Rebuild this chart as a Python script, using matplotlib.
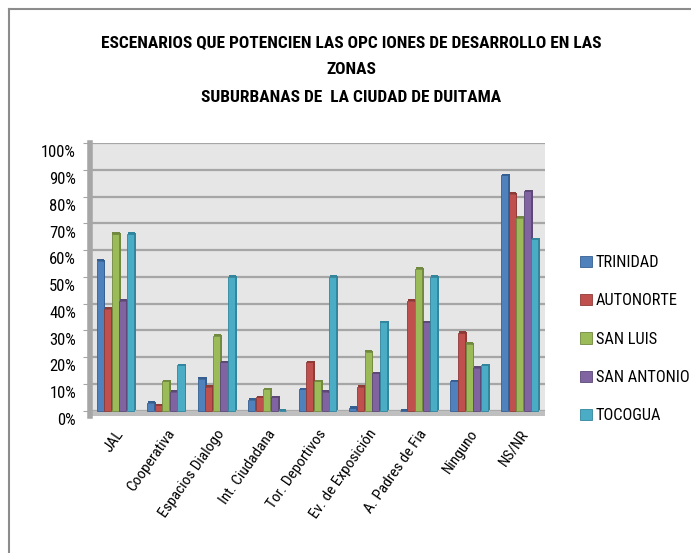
import matplotlib
matplotlib.use("Agg")
import matplotlib.pyplot as plt
import matplotlib.transforms as mtransforms
from matplotlib import font_manager as fm
from matplotlib.ticker import PercentFormatter
import numpy as np

categories = ["JAL", "Cooperativa", "Espacios Dialogo", "Int. Ciudadana",
              "Tor. Deportivos", "Ev. de Exposición", "A. Padres de Fia",
              "Ninguno", "NS/NR"]
series_names = ["TRINIDAD", "AUTONORTE", "SAN LUIS", "SAN ANTONIO", "TOCOGUA"]
trinidad    = [0.56, 0.03, 0.12, 0.04, 0.08, 0.01, 0.00, 0.11, 0.88]
autonorte   = [0.38, 0.02, 0.09, 0.05, 0.18, 0.09, 0.41, 0.29, 0.81]
san_luis    = [0.66, 0.11, 0.28, 0.08, 0.11, 0.22, 0.53, 0.25, 0.72]
san_antonio = [0.41, 0.07, 0.18, 0.05, 0.07, 0.14, 0.33, 0.16, 0.82]
tocogua     = [0.66, 0.17, 0.50, 0.00, 0.50, 0.33, 0.50, 0.17, 0.64]
series = [trinidad, autonorte, san_luis, san_antonio, tocogua]
colors = ["#4F81BD", "#C0504D", "#9BBB59", "#8064A2", "#4BACC6"]
dark = ["#365F91", "#8E3A37", "#71893F", "#5C4776", "#31859C"]
yticks = [0, 0.1, 0.2, 0.3, 0.4, 0.5, 0.6, 0.7, 0.8, 0.9, 1.0]

# choose a narrow font if available
names = {f.name for f in fm.fontManager.ttflist}
stretch = "normal"
scale = 1.0
if "Liberation Sans Narrow" in names:
    fam = "Liberation Sans Narrow"
elif "Roboto Condensed" in names:
    fam = "Roboto Condensed"
elif any(f.name == "DejaVu Sans" and str(f.stretch) in ("condensed", "semi-condensed")
         for f in fm.fontManager.ttflist):
    fam = "DejaVu Sans"
    stretch = "condensed"
    scale = 0.92
else:
    fam = "Roboto"
    scale = 0.85
plt.rcParams['font.family'] = [fam, "DejaVu Sans"]
plt.rcParams['font.stretch'] = stretch

W, H = 691, 553
fig = plt.figure(figsize=(W / 100, H / 100), dpi=100)

# outer border (top and left)
fig.add_artist(plt.Line2D([9 / W, 9 / W], [0, 1 - 9 / H], color="#8c8c8c", lw=1.5))
fig.add_artist(plt.Line2D([9 / W, 1], [1 - 9 / H, 1 - 9 / H], color="#8c8c8c", lw=1.5))

# axes: x from 90 to 545 px, y from 143 (1.0) to 416 (-0.02)
ax = fig.add_axes([90 / W, 1 - 416 / H, 455 / W, (416 - 143) / H])
ax.set_facecolor("#E6E6E6")
ax.set_ylim(-0.02, 1.0)
n = len(categories)
x = np.arange(n)
ax.set_xlim(-0.5, n - 0.5)

ax.set_yticks(yticks)
ax.yaxis.set_major_formatter(PercentFormatter(1.0, decimals=0))
ax.grid(axis="y", color="#A6A6A6", lw=1.6)
ax.set_axisbelow(True)
ax.axhspan(-0.02, 0.0, color="#BFBFBF", zorder=1)
for s in ["top", "right", "bottom"]:
    ax.spines[s].set_visible(False)
ax.spines["left"].set_color("#A6A6A6")
ax.spines["left"].set_linewidth(4)
ax.tick_params(axis="y", length=5, color="#A6A6A6", labelsize=12 * scale, pad=5)
ax.tick_params(axis="x", length=0, labelsize=11 * scale, pad=8)
off = mtransforms.ScaledTranslation(0, -6 / 72, fig.dpi_scale_trans)
for lab in ax.get_yticklabels():
    lab.set_transform(lab.get_transform() + off)

bw = 0.15
dx = 0.04
dy = 0.008
handles = []
for i, (vals, c, dc, name) in enumerate(zip(series, colors, dark, series_names)):
    pos = x - 2 * bw + i * bw
    v = np.array(vals)
    # side face (depth)
    ax.bar(pos + bw / 2 + dx / 2 - 0.01, v, width=dx, bottom=dy - 0.004,
           color=dc, zorder=3 + 2 * i, linewidth=0)
    # top face
    ax.bar(pos + dx / 2 - 0.005, np.full(n, dy), bottom=v - 0.002, width=bw - 0.01,
           color=dc, zorder=3 + 2 * i, linewidth=0)
    h = ax.bar(pos, v, width=bw - 0.01, color=c, edgecolor=dc, linewidth=0.6,
               zorder=4 + 2 * i, label=name)
    handles.append(h)

ax.set_xticks(x)
ax.set_xticklabels(categories, rotation=55, ha="right", rotation_mode="anchor")

ts = 12.5 * scale
fig.text(0.508, 1 - 43 / H, "ESCENARIOS QUE POTENCIEN LAS OPC IONES DE DESARROLLO EN LAS",
         ha="center", va="center", fontsize=ts, fontweight="bold")
fig.text(0.508, 1 - 69 / H, "ZONAS", ha="center", va="center", fontsize=ts, fontweight="bold")
fig.text(0.508, 1 - 97 / H, "SUBURBANAS DE  LA CIUDAD DE DUITAMA",
         ha="center", va="center", fontsize=ts, fontweight="bold")

leg = fig.legend(handles=handles, labels=series_names, loc="upper left",
                 bbox_to_anchor=(572 / W, 1 - 247 / H), frameon=False,
                 prop={"size": 11.8 * scale}, handlelength=0.7, handleheight=0.7,
                 handletextpad=0.25, labelspacing=1.42, borderpad=0)

fig.savefig("out.png", dpi=100)
